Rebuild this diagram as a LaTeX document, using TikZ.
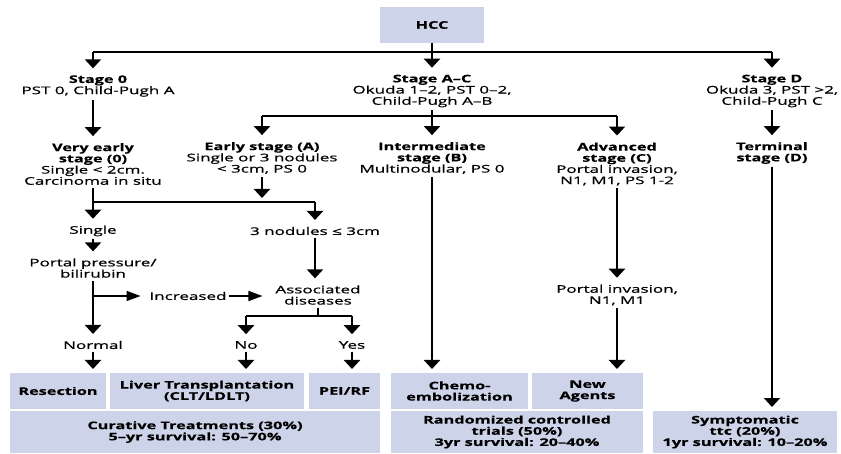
\documentclass[tikz,border=0pt]{standalone}
\usepackage{fontspec}
\setmainfont{Open Sans}[UprightFeatures={FakeStretch=1.62, FakeBold=0.9},
    BoldFeatures={FakeStretch=1.55, FakeBold=0.5}]
\usepackage{xcolor}
\usepackage{tikz}
\usetikzlibrary{arrows.meta}
\definecolor{boxblue}{RGB}{205,211,232}

\begin{document}
\begin{tikzpicture}[x=1pt, y=-1pt,
        every node/.style={font=\fontsize{10.5}{11.2}\selectfont, align=center},
        lbl/.style={inner sep=0pt, outer sep=3pt},
        box/.style={fill=boxblue, inner sep=0pt, outer sep=0pt,
        font=\fontsize{10.5}{11.2}\selectfont\bfseries},
        arr/.style={line width=2.5pt, -{Triangle[length=9pt, width=16pt]},
        shorten >=4pt},
        harr/.style={line width=1.5pt, -{Triangle[length=14pt, width=10pt]},
        shorten >=6pt},
        bar/.style={line width=1.4pt}]
        \useasboundingbox (0,0) rectangle (841,454);

        \node[box, minimum width=104, minimum height=36] (A) at (432,25) {HCC};
        \node[lbl] (B) at (98,86) {\textbf{Stage 0}\\PST 0, Child-Pugh A};
        \node[lbl] (C) at (432,91) {\textbf{Stage A–C}\\Okuda 1–2, PST 0–2,\\Child-Pugh A–B};
        \node[lbl] (D) at (772,91) {\textbf{Stage D}\\Okuda 3, PST >2,\\Child-Pugh C};
        \node[lbl] (E) at (93,164) {\textbf{Very early}\\\textbf{stage (0)}\\Single < 2cm.\\Carcinoma in situ};
        \node[lbl] (F) at (262,158) {\textbf{Early stage (A)}\\Single or 3 nodules\\< 3cm, PS 0};
        \node[lbl] (G) at (432,158) {\textbf{Intermediate}\\\textbf{stage (B)}\\Multinodular, PS 0};
        \node[lbl] (H) at (617,164) {\textbf{Advanced}\\\textbf{stage (C)}\\Portal invasion,\\N1, M1, PS 1-2};
        \node[lbl] (I) at (772,153) {\textbf{Terminal}\\\textbf{stage (D)}};
        \node[lbl] (J) at (93,231) {Single};
        \node[lbl] (K) at (315,231) {3 nodules ≤ 3cm};
        \node[lbl] (L) at (93,268) {Portal pressure/\\bilirubin};
        \node[lbl] (M) at (318,295) {Associated\\diseases};
        \node[lbl] (N) at (188,296) {Increased};
        \node[lbl] (O) at (93,345) {Normal};
        \node[lbl] (P) at (246,345) {No};
        \node[lbl] (Q) at (352,345) {Yes};
        \node[lbl] (R) at (617,295) {Portal invasion,\\N1, M1};
        \node[box, minimum width=96, minimum height=36] (S) at (58,391) {Resection};
        \node[box, minimum width=194, minimum height=36] (T) at (207,391) {Liver Transplantation\\(CLT/LDLT)};
        \node[box, minimum width=71, minimum height=36] (U) at (344.5,391) {PEI/RF};
        \node[box, minimum width=137, minimum height=36] (V) at (459.5,391) {Chemo-\\embolization};
        \node[box, minimum width=111, minimum height=36] (W) at (587.5,391) {New\\Agents};
        \node[box, minimum width=370, minimum height=42] (X) at (195,432) {Curative Treatments (30\%)\\5–yr survival: 50–70\%};
        \node[box, minimum width=252, minimum height=42] (Y) at (517,432) {Randomized controlled\\trials (50\%)\\3yr survival: 20–40\%};
        \node[box, minimum width=184, minimum height=42] (Z) at (745,432) {Symptomatic\\ttc (20\%)\\1yr survival: 10–20\%};

        \coordinate (t1) at (432,52);
        \coordinate (t2) at (432,116);
        \coordinate (t3) at (93,202);
        \coordinate (t4) at (318,316);

        \draw[arr] (A) -- (C);
        \draw[bar] (t1 -| E) -- (t1 -| D);
        \draw[arr] (t1 -| E) -- (B.north -| E);
        \draw[arr] (t1 -| D) -- (D);
        \draw[arr] (B.south -| E) -- (E);
        \draw[arr] (C) -- (G);
        \draw[bar] (t2 -| F) -- (t2 -| H);
        \draw[arr] (t2 -| F) -- (F);
        \draw[arr] (t2 -| H) -- (H);
        \draw[arr] (D) -- (I);

        \draw[arr] (E) -- (J);
        \draw[bar] (t3) -- (t3 -| K);
        \draw[arr] (t3 -| K) -- (K);
        \draw[arr] (F) -- (F |- t3);
        \draw[arr] (J) -- (L);
        \draw[arr] (K) -- (K |- M.north);
        \draw[arr] (L) -- (O);
        \draw[harr] (L.south |- N) -- (N);
        \draw[harr, shorten >=10pt] (N) -- (N -| M.west);
        \draw[line width=2.5pt] (M) -- (t4);
        \draw[bar] (t4 -| P) -- (t4 -| Q);
        \draw[arr] (t4 -| P) -- (P);
        \draw[arr] (t4 -| Q) -- (Q);

        \draw[arr] (O) -- (O |- S.north);
        \draw[arr] (P) -- (P |- T.north);
        \draw[arr] (Q) -- (Q |- U.north);
        \draw[arr] (G) -- (G |- V.north);
        \draw[arr] (H) -- (R);
        \draw[arr] (R) -- (R |- W.north);
        \draw[arr] (I) -- (I |- Z.north);
    \end{tikzpicture}
\end{document}
